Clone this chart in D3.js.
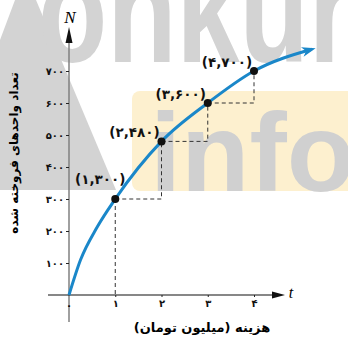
<!DOCTYPE html>
<html>
<head>
<meta charset="utf-8">
<script src="https://cdn.jsdelivr.net/npm/d3@7"></script>
<style>
  body { margin: 0; background: #fff; }
  svg { display: block; }
  .fa { font-family: "DejaVu Sans", sans-serif; font-weight: bold; }
</style>
</head>
<body>
<svg id="chart" width="348" height="338"></svg>
<script>
// values
const pointT = [1, 2, 3, 4];
const pointN = [300, 480, 600, 700];
const curveT = [0, 0.25, 0.6, 1, 2, 3, 4, 5.25];
const curveN = [0, 110, 210, 300, 480, 600, 700, 768];
const xTicks = [1, 2, 3, 4];
const yTicks = [100, 200, 300, 400, 500, 600, 700];
const xTitle = "هزینه (میلیون تومان)";
const yTitle = "تعداد واحدهای فروخته شده";

const faDigits = "۰۱۲۳۴۵۶۷۸۹";
const fa = n => String(n).replace(/\d/g, d => faDigits[d]);

const svg = d3.select("#chart");
const x = d3.scaleLinear().domain([0, 4]).range([69, 254]);
const y = d3.scaleLinear().domain([0, 700]).range([295, 71]);

// watermark
const wm = svg.append("g");
wm.append("path")
  .attr("d", "M15,0L36,0L116,190L0,190L0,40Z")
  .attr("fill", "#d3d3d3");
wm.append("text")
  .attr("x", 38).attr("y", 62)
  .attr("font-family", "Liberation Sans, sans-serif")
  .attr("font-weight", "bold")
  .attr("font-size", 150)
  .attr("textLength", 315)
  .attr("lengthAdjust", "spacingAndGlyphs")
  .attr("fill", "#d3d3d3")
  .text("onkur");
wm.append("rect")
  .attr("x", 132).attr("y", 91)
  .attr("width", 230).attr("height", 100)
  .attr("rx", 8)
  .attr("fill", "#fdf0cf");
wm.append("text")
  .attr("x", 150).attr("y", 191)
  .attr("font-family", "Liberation Sans, sans-serif")
  .attr("font-weight", "bold")
  .attr("font-size", 112)
  .attr("fill", "#d0d0d0")
  .text("info");

// arrow heads
const defs = svg.append("defs");
defs.append("marker")
  .attr("id", "blueArrow")
  .attr("viewBox", "0 -6 14 12")
  .attr("refX", 10).attr("refY", 0)
  .attr("markerWidth", 14).attr("markerHeight", 12)
  .attr("markerUnits", "userSpaceOnUse")
  .attr("orient", "auto")
  .append("path")
  .attr("d", "M0,-5L14,0L0,5L4,0Z")
  .attr("fill", "#1a87c9");

// y axis
svg.append("line")
  .attr("x1", x(0)).attr("x2", x(0))
  .attr("y1", 322).attr("y2", 40)
  .attr("stroke", "#808080").attr("stroke-width", 1.5);
svg.append("path")
  .attr("d", d3.line()([[x(0), 27], [x(0) - 3.5, 43], [x(0) + 3.5, 43]]) + "Z")
  .attr("fill", "#111");
svg.append("text")
  .attr("x", x(0) + 1).attr("y", 23)
  .attr("text-anchor", "middle")
  .attr("font-family", "Liberation Serif, serif")
  .attr("font-style", "italic")
  .attr("font-size", 17)
  .text("N");

const yAxis = d3.axisLeft(y).tickValues(yTicks).tickSize(3).tickPadding(2)
  .tickFormat(fa);
const gy = svg.append("g")
  .attr("transform", `translate(${x(0)},0)`)
  .call(yAxis);
gy.select(".domain").remove();
gy.selectAll(".tick line").attr("stroke", "#222");
gy.selectAll(".tick text")
  .attr("class", "fa")
  .attr("font-size", 10)
  .attr("fill", "#111");

// x axis
svg.append("line")
  .attr("x1", 48).attr("x2", 276)
  .attr("y1", y(0)).attr("y2", y(0))
  .attr("stroke", "#111").attr("stroke-width", 1.2);
svg.append("path")
  .attr("d", d3.line()([[285, y(0)], [272, y(0) - 3.5], [272, y(0) + 3.5]]) + "Z")
  .attr("fill", "#111");
svg.append("text")
  .attr("x", 291).attr("y", y(0) + 3)
  .attr("text-anchor", "middle")
  .attr("font-family", "Liberation Serif, serif")
  .attr("font-style", "italic")
  .attr("font-size", 16)
  .text("t");

const xAxis = d3.axisBottom(x).tickValues(xTicks).tickSize(2).tickPadding(3)
  .tickFormat(fa);
const gx = svg.append("g")
  .attr("transform", `translate(0,${y(0)})`)
  .call(xAxis);
gx.select(".domain").remove();
gx.selectAll(".tick line").attr("stroke", "#222");
gx.selectAll(".tick text")
  .attr("class", "fa")
  .attr("font-size", 10)
  .attr("fill", "#111");
svg.append("text")
  .attr("class", "fa")
  .attr("x", x(0)).attr("y", y(0) + 14)
  .attr("text-anchor", "middle")
  .attr("font-size", 10)
  .text(fa(0));

// dashed guides: down from the first point, then a staircase
const guides = svg.append("g")
  .attr("fill", "none")
  .attr("stroke", "#333")
  .attr("stroke-width", 1)
  .attr("stroke-dasharray", "4,3");
guides.append("path")
  .attr("d", d3.line()([[x(pointT[0]), y(pointN[0])], [x(pointT[0]), y(0)]]));
pointT.slice(1).forEach((t, i) => {
  guides.append("path")
    .attr("d", d3.line()([
      [x(pointT[i]), y(pointN[i])],
      [x(t), y(pointN[i])],
      [x(t), y(pointN[i + 1])]
    ]));
});

// curve
const line = d3.line()
  .x(d => x(d[0]))
  .y(d => y(d[1]))
  .curve(d3.curveMonotoneX);
svg.append("path")
  .datum(curveT.map((t, i) => [t, curveN[i]]))
  .attr("d", line)
  .attr("fill", "none")
  .attr("stroke", "#1a87c9")
  .attr("stroke-width", 3)
  .attr("marker-end", "url(#blueArrow)");

// points and labels
svg.selectAll(".pt")
  .data(pointT)
  .join("circle")
  .attr("class", "pt")
  .attr("cx", d => x(d))
  .attr("cy", (d, i) => y(pointN[i]))
  .attr("r", 4)
  .attr("fill", "#111");
svg.selectAll(".lbl")
  .data(pointT)
  .join("text")
  .attr("class", "lbl fa")
  .attr("x", (d, i) => x(d) + (i === 0 ? -15 : -27))
  .attr("y", (d, i) => y(pointN[i]) + (i === 0 ? -15 : -4))
  .attr("text-anchor", "middle")
  .attr("direction", "ltr")
  .attr("font-size", 13.5)
  .attr("fill", "#111")
  .text((d, i) => `(${fa(d)},${fa(pointN[i])})`);

// titles
svg.append("text")
  .attr("class", "fa")
  .attr("x", 202).attr("y", 332)
  .attr("text-anchor", "middle")
  .attr("direction", "rtl")
  .attr("font-size", 13)
  .text(xTitle);
svg.append("text")
  .attr("class", "fa")
  .attr("transform", "translate(18,153) rotate(-90)")
  .attr("text-anchor", "middle")
  .attr("direction", "rtl")
  .attr("font-size", 12)
  .text(yTitle);
</script>
</body>
</html>
